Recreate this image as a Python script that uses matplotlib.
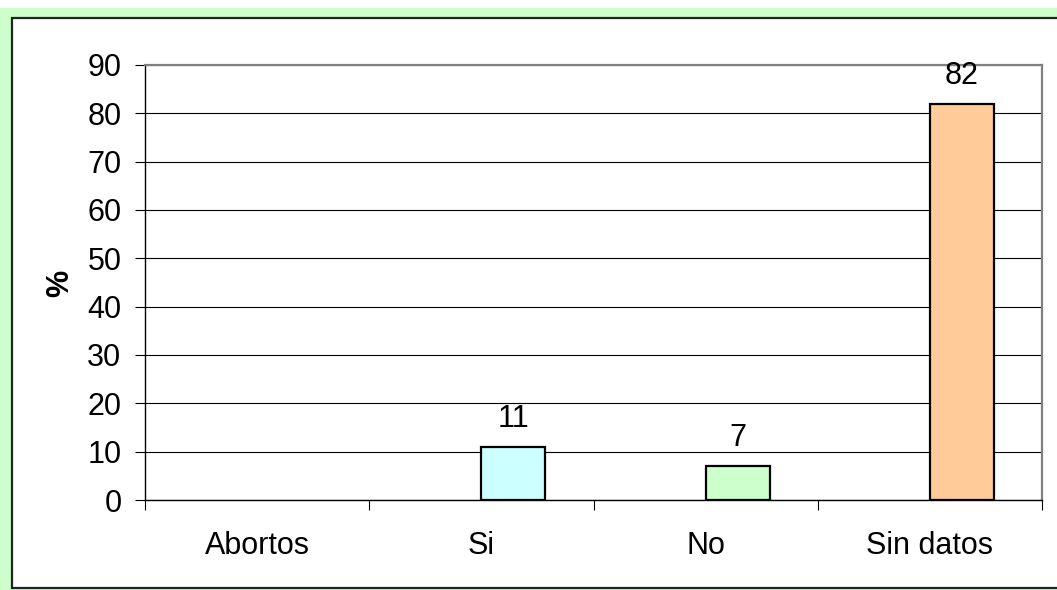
import numpy as np
import matplotlib
matplotlib.use("Agg")
import matplotlib.pyplot as plt
from matplotlib.patches import Rectangle

categories = ["Abortos", "Si", "No", "Sin datos"]
values = [np.nan, 11, 7, 82]
colors = ["#FFFFFF", "#CCFFFF", "#CCFFCC", "#FFCC99"]
yticks = [0, 10, 20, 30, 40, 50, 60, 70, 80, 90]

W, H = 1057, 590
FS = 22
plt.rcParams['font.family'] = ['Liberation Sans', 'DejaVu Sans']
fig = plt.figure(figsize=(W / 100, H / 100), dpi=100)
fig.patch.set_facecolor("white")

def fx(px):
    return px / W

def fy(py):
    return 1 - py / H

# green outer background
fig.patches.append(Rectangle((0, 0), 1, fy(8), transform=fig.transFigure,
                             facecolor="#CCFFCC", edgecolor="none", zorder=0))
# inner white box with dark border
fig.patches.append(Rectangle((fx(12), fy(588)), fx(1070) - fx(12), fy(18) - fy(588),
                             transform=fig.transFigure, facecolor="white",
                             edgecolor="#222222", linewidth=1.6, zorder=1))

ax = fig.add_axes([fx(145), fy(500), fx(1042) - fx(145), fy(65) - fy(500)])
ax.set_facecolor("none")
ax.set_zorder(2)

x = np.arange(len(categories))
bw = 1 / 3.5
off = bw / 2
for xi, v, c in zip(x, values, colors):
    if np.isnan(v):
        continue
    ax.bar(xi + off, v, width=bw, color=c, edgecolor="black", linewidth=1.6, zorder=3)
    ax.annotate(f"{v:g}", (xi + off, v), xytext=(0, 14.5), textcoords="offset points",
                ha="center", va="baseline", fontsize=FS, zorder=4)

ax.set_xlim(-0.5, len(categories) - 0.5)
ax.set_ylim(0, 90)
ax.set_yticks(yticks)
ax.set_yticklabels([str(t) for t in yticks])
ax.yaxis.grid(True, color="black", linewidth=0.8)
ax.set_axisbelow(True)

ax.set_xticks(x)
ax.set_xticklabels(categories)
ax.set_xticks(np.arange(len(categories) + 1) - 0.5, minor=True)
ax.tick_params(axis="x", which="major", length=0, pad=22, labelsize=FS)
ax.tick_params(axis="x", which="minor", length=7, width=0.8, direction="out", color="black")
ax.tick_params(axis="y", length=7, width=0.8, direction="out", pad=10, labelsize=FS)

for s in ["left", "bottom"]:
    ax.spines[s].set_color("black")
    ax.spines[s].set_linewidth(1.0)
for s in ["top", "right"]:
    ax.spines[s].set_color("#808080")
    ax.spines[s].set_linewidth(1.6)

fig.text(fx(60), fy(283), "%", rotation=90, ha="center", va="center",
         fontsize=FS, fontweight="bold")

fig.savefig("out.png", dpi=100)
